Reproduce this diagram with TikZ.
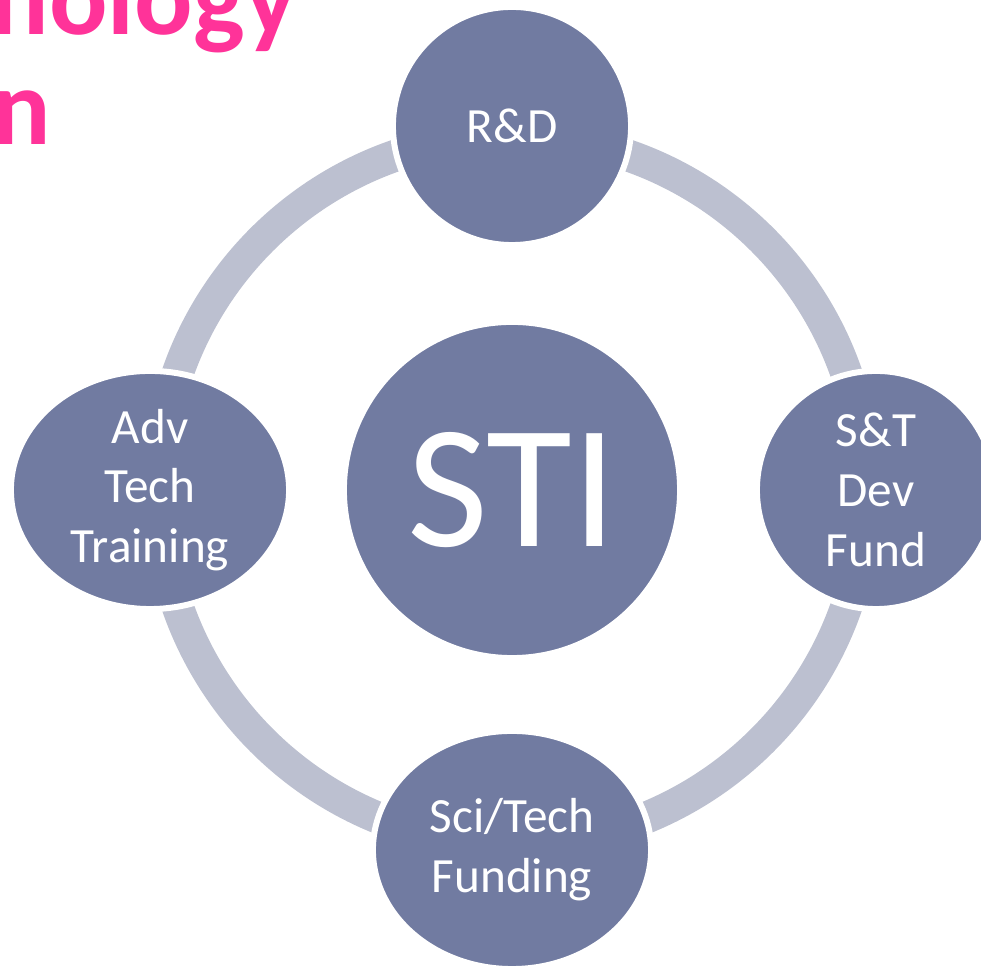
\documentclass[tikz,border=0pt]{standalone}
\usepackage{fontspec}
\setmainfont{Carlito}
\usepackage{tikz}
\usetikzlibrary{%
		shapes.geometric%
	}
\definecolor{bubble}{HTML}{717BA1}
\definecolor{ringgray}{HTML}{BCC0D0}
\definecolor{titlepink}{HTML}{FF3399}

\begin{document}
\begin{tikzpicture}[x=0.01cm, y=-0.01cm,
		bubble/.style={circle, fill=bubble, draw=white, line width=0.06cm, inner sep=0, minimum size=2.38cm, text=white, align=center, font=\fontsize{14}{17}\selectfont},
		oval/.style={bubble, ellipse, minimum width=2.78cm, minimum height=2.38cm},
		headline/.style={anchor=base west, inner sep=0, text=titlepink, font=\bfseries\fontsize{31}{37}\selectfont}]
			\useasboundingbox (0,0) rectangle (981,968);
			
			% Title
			\node[headline] (title1) at (-10,35) {nology};
			\node[headline] (title2) at (-8,145) {n};
			
			% Ring
			\draw[ringgray, line width=0.32cm] (512,490) circle [radius=354];
			
			% Centre
			\node[bubble, minimum size=3.36cm, font=\fontsize{50}{60}\selectfont] (sti) at (512,490) {STI};
			
			% Around
			\node[bubble] (rd) at (512,126) {R\&D};
			\node[bubble] (fund) at (876,490) {S\&T\\Dev\\Fund};
			\node[oval] (funding) at (512,850) {Sci/Tech\\Funding};
			\node[oval] (training) at (150,490) {Adv\\Tech\\Training};
		\end{tikzpicture}
\end{document}
